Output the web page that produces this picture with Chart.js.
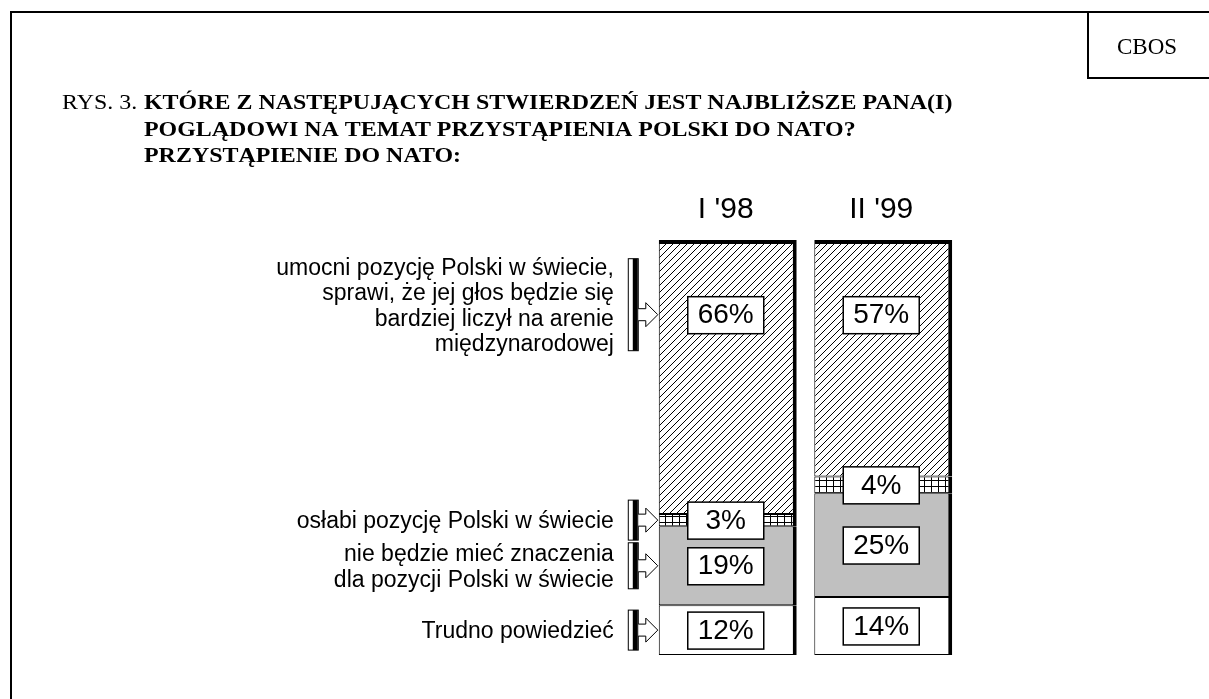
<!DOCTYPE html>
<html>
<head>
<meta charset="utf-8">
<script src="https://cdn.jsdelivr.net/npm/chart.js@4"></script>
<style>
  html, body { margin: 0; padding: 0; background: #fff; }
  #wrap { width: 1209px; height: 699px; position: relative; }
</style>
</head>
<body>
<div id="wrap"><canvas id="chart" width="1209" height="699"></canvas></div>
<script>
// periods (columns)
const periods = ["I '98", "II '99"];

// answer shares, percent
const strengthen = [66, 57];
const weaken = [3, 4];
const noMatter = [19, 25];
const hardToSay = [12, 14];

// legend texts (one entry per line)
const strengthenText = ['umocni pozycję Polski w świecie,', 'sprawi, że jej głos będzie się', 'bardziej liczył na arenie', 'międzynarodowej'];
const weakenText = ['osłabi pozycję Polski w świecie'];
const noMatterText = ['nie będzie mieć znaczenia', 'dla pozycji Polski w świecie'];
const hardToSayText = ['Trudno powiedzieć'];

const titleLines = [
  'KTÓRE Z NASTĘPUJĄCYCH STWIERDZEŃ JEST NAJBLIŻSZE PANA(I)',
  'POGLĄDOWI NA TEMAT PRZYSTĄPIENIA POLSKI DO NATO?',
  'PRZYSTĄPIENIE DO NATO:'
];

// fill patterns
function makePattern(w, h, draw) {
  const c = document.createElement('canvas');
  c.width = w; c.height = h;
  const g = c.getContext('2d');
  g.fillStyle = '#fff';
  g.fillRect(0, 0, w, h);
  g.strokeStyle = '#000';
  g.lineWidth = 1;
  draw(g, w, h);
  return document.getElementById('chart').getContext('2d').createPattern(c, 'repeat');
}
const hatch = makePattern(7, 7, (g, w, h) => {
  g.beginPath();
  g.moveTo(-1, h + 1); g.lineTo(w + 1, -1);
  g.moveTo(-1, 1); g.lineTo(1, -1);
  g.moveTo(w - 1, h + 1); g.lineTo(w + 1, h - 1);
  g.stroke();
});
const grid = makePattern(7, 6, (g, w, h) => {
  g.beginPath();
  g.moveTo(0.5, 0); g.lineTo(0.5, h);
  g.moveTo(0, 0.5); g.lineTo(w, 0.5);
  g.stroke();
});

const sideBorder = { top: 1, left: 1, bottom: 1, right: 4 };

// boxes with values, legend on the left, title and frame
const decorations = {
  id: 'decorations',
  afterDatasetsDraw(chart, args, opts) {
    const ctx = chart.ctx;
    const y = chart.scales.y;
    const n = chart.data.datasets.length;
    const labelYs = [];
    chart.data.datasets.forEach((ds, di) => {
      const meta = chart.getDatasetMeta(di);
      meta.data.forEach((el, i) => {
        let cy = (el.y + el.base) / 2;
        if (di === n - 1) cy = y.getPixelForValue(opts.topLabelAt);
        if (i === 0) labelYs[di] = cy;
        const cx = el.x - 2;
        ctx.save();
        ctx.fillStyle = '#fff';
        ctx.strokeStyle = '#000';
        ctx.lineWidth = 1.5;
        ctx.fillRect(cx - 38, cy - 18, 76, 37);
        ctx.strokeRect(cx - 38, cy - 18, 76, 37);
        ctx.fillStyle = '#000';
        ctx.font = '28px "Liberation Sans", Arial, sans-serif';
        ctx.textAlign = 'center';
        ctx.textBaseline = 'middle';
        ctx.fillText(ds.data[i] + '%', cx, cy + 1);
        ctx.restore();
      });
    });

    // legend
    const first = chart.getDatasetMeta(0).data[0];
    const barLeft = first.x - first.width / 2;
    chart.data.datasets.forEach((ds, di) => {
      const lines = ds.legendLines;
      const ay = labelYs[di];
      const gy = ay + (di === n - 1 ? -10 : 0);
      const bh = Math.max(40, lines.length * 23);
      const bx = barLeft - 31;
      ctx.save();
      // bracket
      ctx.fillStyle = '#fff';
      ctx.strokeStyle = '#000';
      ctx.lineWidth = 1;
      ctx.fillRect(bx, gy - bh / 2, 10, bh);
      ctx.strokeRect(bx + 0.5, gy - bh / 2, 10, bh);
      ctx.fillStyle = '#000';
      ctx.fillRect(bx + 5, gy - bh / 2, 5, bh);
      // arrow
      const ax = bx + 10.5, tip = barLeft - 1;
      ctx.beginPath();
      ctx.moveTo(ax, ay - 6);
      ctx.lineTo(tip - 12, ay - 6);
      ctx.lineTo(tip - 12, ay - 12);
      ctx.lineTo(tip, ay);
      ctx.lineTo(tip - 12, ay + 12);
      ctx.lineTo(tip - 12, ay + 6);
      ctx.lineTo(ax, ay + 6);
      ctx.fillStyle = '#fff';
      ctx.fill();
      ctx.stroke();
      // text
      ctx.fillStyle = '#000';
      ctx.font = '23px "Liberation Sans", Arial, sans-serif';
      ctx.textAlign = 'right';
      ctx.textBaseline = 'middle';
      const lh = 25.5;
      lines.forEach((t, k) => {
        ctx.fillText(t, bx - 14, gy + (k - (lines.length - 1) / 2) * lh + 2);
      });
      ctx.restore();
    });

    // column titles
    const x = chart.scales.x;
    ctx.save();
    ctx.fillStyle = '#000';
    ctx.font = '30px "Liberation Sans", Arial, sans-serif';
    ctx.textAlign = 'center';
    ctx.textBaseline = 'middle';
    periods.forEach((p, i) => ctx.fillText(p, x.getPixelForValue(i) - 2, chart.chartArea.top - 30));
    ctx.restore();

    // frame and title
    ctx.save();
    ctx.strokeStyle = '#000';
    ctx.lineWidth = 2;
    ctx.beginPath();
    ctx.moveTo(11, 699); ctx.lineTo(11, 12); ctx.lineTo(1209, 12);
    ctx.stroke();
    ctx.strokeRect(1088, 12, 130, 66);
    ctx.fillStyle = '#000';
    ctx.textBaseline = 'alphabetic';
    ctx.textAlign = 'center';
    ctx.font = '23px "Liberation Serif", "Times New Roman", serif';
    ctx.fillText('CBOS', 1147, 54);
    ctx.textAlign = 'left';
    ctx.translate(0, 0);
    ctx.save();
    ctx.translate(62, 0);
    ctx.scale(1.14, 1);
    ctx.font = '21px "Liberation Serif", "Times New Roman", serif';
    ctx.fillText('RYS. 3.', 0, 109);
    ctx.restore();
    ctx.save();
    ctx.translate(144, 0);
    ctx.scale(1.14, 1);
    ctx.font = 'bold 21px "Liberation Serif", "Times New Roman", serif';
    titleLines.forEach((t, k) => ctx.fillText(t, 0, 109 + k * 26.5));
    ctx.restore();
    ctx.restore();
  }
};

new Chart(document.getElementById('chart'), {
  type: 'bar',
  data: {
    labels: periods,
    datasets: [
      { label: 'Trudno powiedzieć', data: hardToSay, legendLines: hardToSayText, backgroundColor: '#fff', borderWidth: sideBorder },
      { label: 'nie będzie mieć znaczenia', data: noMatter, legendLines: noMatterText, backgroundColor: '#c0c0c0', borderWidth: sideBorder },
      { label: 'osłabi pozycję', data: weaken, legendLines: weakenText, backgroundColor: grid, borderWidth: sideBorder },
      { label: 'umocni pozycję', data: strengthen, legendLines: strengthenText, backgroundColor: hatch, borderWidth: { top: 4, left: 1, bottom: 1, right: 4 } }
    ]
  },
  options: {
    responsive: false,
    animation: false,
    events: [],
    layout: { padding: { left: 650, right: 248, top: 240, bottom: 44 } },
    datasets: {
      bar: {
        borderColor: '#000',
        borderSkipped: false,
        barPercentage: 1,
        categoryPercentage: 0.887
      }
    },
    scales: {
      x: { stacked: true, display: false },
      y: { stacked: true, display: false, min: 0, max: 100 }
    },
    plugins: {
      legend: { display: false },
      tooltip: { enabled: false },
      decorations: { topLabelAt: 82 }
    }
  },
  plugins: [decorations]
});
</script>
</body>
</html>
